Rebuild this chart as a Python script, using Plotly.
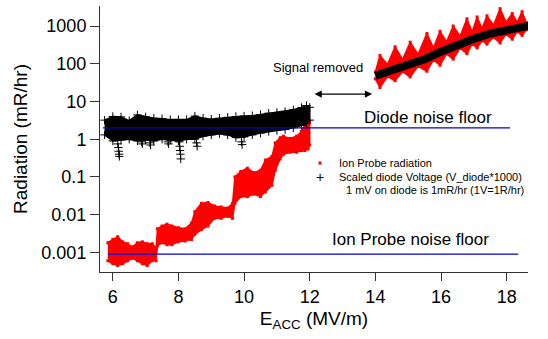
import math
import plotly.graph_objects as go

# ---------------- data ----------------
# Ion probe radiation (mR/hr), low-field part: x, band min, band max
ion_low_x = [5.85, 6.0, 6.15, 6.3, 6.45, 6.6, 6.75, 6.9, 7.05, 7.2, 7.32,
             7.36, 7.5, 7.65, 7.8, 8.0, 8.2, 8.4, 8.5, 8.7, 8.9, 9.1, 9.3,
             9.5, 9.65, 9.72, 9.9, 10.1, 10.3, 10.5, 10.65, 10.85, 10.95,
             11.1, 11.2, 11.4, 11.6, 11.75, 11.85, 11.95, 12.0]
ion_low_min = [0.0006, 0.0005, 0.00045, 0.0005, 0.0006, 0.0007, 0.0006, 0.0005,
               0.00045, 0.0006, 0.0006, 0.0015, 0.0018, 0.0016, 0.0016, 0.0019,
               0.002, 0.0022, 0.003, 0.004, 0.005, 0.008, 0.008, 0.009, 0.008,
               0.02, 0.03, 0.03, 0.035, 0.03, 0.04, 0.06, 0.15, 0.3, 0.4, 0.45,
               0.45, 0.5, 0.5, 0.55, 0.7]
ion_low_max = [0.0018, 0.0022, 0.0026, 0.0019, 0.0017, 0.0014, 0.0018, 0.0019,
               0.0017, 0.0017, 0.0013, 0.0042, 0.005, 0.0056, 0.005, 0.0045,
               0.0042, 0.006, 0.012, 0.02, 0.021, 0.017, 0.016, 0.015, 0.02,
               0.1, 0.14, 0.17, 0.13, 0.15, 0.28, 0.35, 0.8, 1.1, 1.2, 1.05,
               1.2, 1.6, 2.4, 3.6, 3.0]
# Ion probe radiation (mR/hr), high-field part
ion_high_x = [14.0, 14.14, 14.37, 14.6, 14.83, 15.06, 15.3, 15.57, 15.77, 15.97,
              16.17, 16.37, 16.58, 16.79, 16.95, 17.1, 17.25, 17.4, 17.6, 17.8,
              17.98, 18.17, 18.32, 18.47, 18.6]
ion_high_min = [39.8, 23.4, 45.7, 35.5, 61.7, 44.7, 85.1, 63.1, 126, 91.2, 182,
                132, 257, 186, 331, 263, 407, 331, 501, 355, 603, 447, 708, 562, 794]
ion_high_max = [60.3, 166, 95.5, 282, 129, 372, 178, 631, 263, 724, 380, 1000,
                537, 1549, 692, 1738, 851, 1862, 1047, 2884, 1259, 2138, 1259,
                2399, 1230]

# Scaled diode voltage (mR/hr), low-field part: x, band min, band max
diode_low_x = [5.75, 6.0, 6.25, 6.5, 6.75, 7.0, 7.25, 7.5, 7.75, 8.0, 8.25, 8.5,
               8.75, 9.0, 9.25, 9.5, 9.75, 10.0, 10.25, 10.5, 10.75, 11.0, 11.25,
               11.5, 11.75, 11.9, 12.0]
diode_low_min = [1.3, 0.9, 0.95, 1.0, 0.9, 0.95, 0.9, 1.0, 0.95, 0.9, 1.0, 1.0,
                 1.2, 1.3, 1.4, 1.3, 1.1, 1.15, 1.3, 1.45, 1.6, 1.7, 1.8, 2.0,
                 2.3, 2.6, 3.2]
diode_low_max = [3.2, 4.0, 3.9, 3.1, 4.4, 3.9, 3.6, 3.5, 3.3, 3.3, 3.3, 4.1,
                 3.6, 3.4, 3.6, 3.8, 4.0, 4.1, 4.2, 4.5, 4.9, 5.1, 5.4, 6.0,
                 6.9, 7.8, 7.0]
# downward excursions of the diode signal
diode_dip_x = [6.15, 6.17, 6.18, 6.19, 6.2, 6.88, 6.9, 7.13, 7.15, 7.68, 7.7,
               8.03, 8.04, 8.05, 8.06, 8.07, 8.55, 8.57, 9.92, 9.94]
diode_dip_y = [0.75, 0.6, 0.48, 0.4, 0.35, 0.85, 0.75, 0.8, 0.7, 0.85, 0.75,
               0.85, 0.65, 0.5, 0.4, 0.3, 0.8, 0.65, 0.85, 0.72]
# diode, high-field part
diode_high_x = [14.0, 14.5, 15.0, 15.5, 16.0, 16.5, 17.0, 17.5, 18.0, 18.5, 18.7]
diode_high_y = [47.9, 66, 89, 132, 209, 316, 457, 631, 794, 955, 1023]

# noise floors
diode_floor_x = [5.7, 18.1]
diode_floor_y = [2.0, 2.0]
ion_floor_x = [5.85, 18.35]
ion_floor_y = [0.0009, 0.0009]

x_ticks = [6, 8, 10, 12, 14, 16, 18]
y_ticks = [0.001, 0.01, 0.1, 1, 10, 100, 1000]
y_tick_labels = ["0.001", "0.01", "0.1", "1", "10", "100", "1000"]

FONT = "Liberation Sans, Arial, sans-serif"
RED = "#ff0000"
BLUE = "#0000cc"
AX = "#333333"

fig = go.Figure()


def band(x, lo, hi, color):
    fig.add_trace(go.Scatter(
        x=list(x) + list(x)[::-1], y=list(hi) + list(lo)[::-1],
        mode="lines", fill="toself", fillcolor=color,
        line=dict(color=color, width=1.5), hoverinfo="skip"))


# ion probe (red)
band(ion_low_x, ion_low_min, ion_low_max, RED)
band(ion_high_x, ion_high_min, ion_high_max, RED)
fig.add_trace(go.Scatter(
    x=ion_low_x + ion_low_x + ion_high_x + ion_high_x,
    y=ion_low_min + ion_low_max + ion_high_min + ion_high_max,
    mode="markers", marker=dict(symbol="square", size=3, color=RED)))

# diode (black)
band(diode_low_x, diode_low_min, diode_low_max, "black")
fig.add_trace(go.Scatter(
    x=diode_low_x + diode_low_x + diode_dip_x,
    y=diode_low_min + diode_low_max + diode_dip_y,
    mode="markers",
    marker=dict(symbol="cross-thin", size=6, color="black",
                line=dict(color="black", width=1))))
fig.add_trace(go.Scatter(
    x=diode_high_x, y=diode_high_y, mode="lines",
    line=dict(color="black", width=8)))

# noise floors
fig.add_trace(go.Scatter(x=diode_floor_x, y=diode_floor_y, mode="lines",
                         line=dict(color=BLUE, width=1.2)))
fig.add_trace(go.Scatter(x=ion_floor_x, y=ion_floor_y, mode="lines",
                         line=dict(color=BLUE, width=1.2)))

L = math.log10
ann = [
    dict(x=13.58, y=L(3.7), xref="x", yref="y", text="Diode noise floor",
         showarrow=False, xanchor="left", yanchor="middle",
         font=dict(size=17, color="black", family=FONT)),
    dict(x=12.62, y=L(0.0022), xref="x", yref="y", text="Ion Probe noise floor",
         showarrow=False, xanchor="left", yanchor="middle",
         font=dict(size=17, color="black", family=FONT)),
    dict(x=10.81, y=L(78), xref="x", yref="y", text="Signal removed",
         showarrow=False, xanchor="left", yanchor="middle",
         font=dict(size=13, color="black", family=FONT)),
    dict(x=13.9, y=L(15.7), ax=12.1, ay=L(15.7), xref="x", yref="y",
         axref="x", ayref="y", text="", showarrow=True, arrowhead=2,
         startarrowhead=2, arrowside="end+start", arrowsize=1.2,
         arrowwidth=1.2, arrowcolor="black"),
    # legend
    dict(x=0.554, y=0.41, xref="paper", yref="paper", text="Ion Probe radiation",
         showarrow=False, xanchor="left", yanchor="middle",
         font=dict(size=11, color="black", family=FONT)),
    dict(x=0.514, y=0.357, xref="paper", yref="paper", text="+",
         showarrow=False, xanchor="center", yanchor="middle",
         font=dict(size=14, color="black", family=FONT)),
    dict(x=0.554, y=0.357, xref="paper", yref="paper",
         text="Scaled diode Voltage (V_diode*1000)",
         showarrow=False, xanchor="left", yanchor="middle",
         font=dict(size=11, color="black", family=FONT)),
    dict(x=0.570, y=0.308, xref="paper", yref="paper",
         text="1 mV on diode is 1mR/hr (1V=1R/hr)",
         showarrow=False, xanchor="left", yanchor="middle",
         font=dict(size=11, color="black", family=FONT)),
]

fig.update_layout(
    width=548, height=339,
    margin=dict(l=100, r=20, t=6, b=67),
    paper_bgcolor="white", plot_bgcolor="white",
    showlegend=False,
    font=dict(family=FONT, color="black"),
    annotations=ann,
    shapes=[dict(type="rect", xref="paper", yref="paper",
                 x0=0.5105, x1=0.5175, y0=0.404, y1=0.4154,
                 fillcolor=RED, line=dict(width=0))],
    xaxis=dict(range=[5.61, 18.65], showline=True, linecolor=AX, linewidth=1,
               ticks="outside", ticklen=8, tickcolor=AX, tickwidth=1,
               tickvals=x_ticks, showgrid=False, zeroline=False,
               tickfont=dict(size=18, family=FONT, color="black"),
               title=dict(text="E<sub>ACC</sub> (MV/m)", standoff=6,
                          font=dict(size=19, family=FONT, color="black"))),
    yaxis=dict(type="log", range=[-3.52, 3.53], showline=True, linecolor=AX,
               linewidth=1, ticks="outside", ticklen=9, tickcolor=AX,
               tickwidth=1, tickvals=y_ticks, ticktext=y_tick_labels,
               showgrid=False, zeroline=False,
               tickfont=dict(size=18, family=FONT, color="black"),
               title=dict(text="Radiation (mR/hr)", standoff=8,
                          font=dict(size=19, family=FONT, color="black"))),
)

fig.write_html("out.html")
